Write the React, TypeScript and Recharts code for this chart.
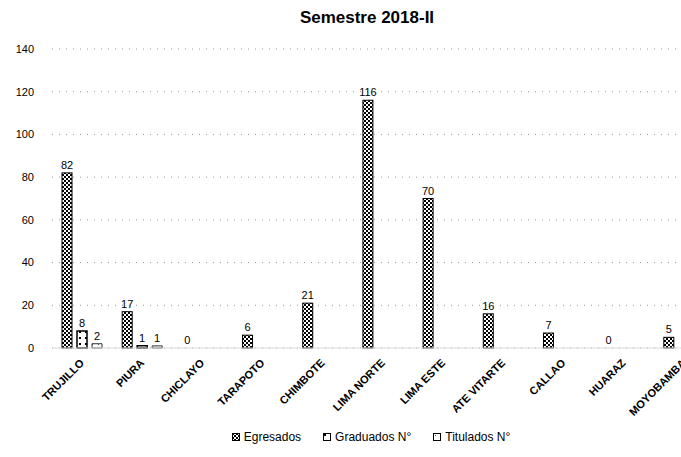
import React from 'react';
import { BarChart, Bar, XAxis, YAxis, CartesianGrid, Legend, LabelList } from 'recharts';

const categories = ['TRUJILLO', 'PIURA', 'CHICLAYO', 'TARAPOTO', 'CHIMBOTE', 'LIMA NORTE', 'LIMA ESTE', 'ATE VITARTE', 'CALLAO', 'HUARAZ', 'MOYOBAMBA'];
const egresados = [82, 17, 0, 6, 21, 116, 70, 16, 7, 0, 5];
const graduados = [8, 1, null, null, null, null, null, null, null, null, null];
const titulados = [2, 1, null, null, null, null, null, null, null, null, null];
const yTicks = [0, 20, 40, 60, 80, 100, 120, 140];

const data = categories.map((name, i) => ({
  name,
  egresados: egresados[i],
  graduados: graduados[i],
  titulados: titulados[i],
}));

const font = '"Liberation Sans", Arial, sans-serif';

const renderLabel = (props: any) => {
  const { x, y, width, value } = props;
  if (value === null || value === undefined) return null;
  return (
    <text x={x + width / 2} y={y - 4} textAnchor="middle" fontSize={11} fontFamily={font} fill="#000">
      {value}
    </text>
  );
};

// zero values get a tiny size so their label still shows; the shape hides the sliver
const zeroSize = (value: any) => (value === 0 ? 0.5 : 0);

const BarShape = (props: any) => {
  const { x, y, width, height, fill, stroke, strokeWidth } = props;
  if (!height || height < 1) return null;
  return <rect x={x} y={y} width={width} height={height} fill={fill} stroke={stroke} strokeWidth={strokeWidth} />;
};

const XTick = (props: any) => {
  const { x, payload } = props;
  const y = 358;
  return (
    <text
      x={x - 3}
      y={y}
      transform={`rotate(-45 ${x - 3} ${y})`}
      textAnchor="end"
      dy={8}
      fontSize={11}
      fontWeight="bold"
      fontFamily={font}
      fill="#000"
    >
      {payload.value}
    </text>
  );
};

const LegendContent = (props: any) => {
  const { payload } = props;
  return (
    <div style={{ display: 'flex', justifyContent: 'center', gap: 22, paddingLeft: 28, fontFamily: font, fontSize: 12, color: '#000' }}>
      {(payload || []).map((item: any) => (
        <div key={item.value} style={{ display: 'flex', alignItems: 'center', gap: 4 }}>
          <svg width={8} height={8}>
            <rect x={0.5} y={0.5} width={7} height={7} fill={item.color} stroke="#000" strokeWidth={1} />
          </svg>
          <span>{item.value}</span>
        </div>
      ))}
    </div>
  );
};

const Patterns = () => (
  <svg width={0} height={0} style={{ position: 'absolute' }}>
    <defs>
      <pattern id="pEgr" width={4} height={4} patternUnits="userSpaceOnUse">
        <rect width={4} height={4} fill="#fff" />
        <rect x={0} y={0} width={2} height={2} fill="#000" />
        <rect x={2} y={2} width={2} height={2} fill="#000" />
      </pattern>
      <pattern id="pGrad" width={6} height={6} patternUnits="userSpaceOnUse">
        <rect width={6} height={6} fill="#fff" />
        <rect x={1} y={1} width={2} height={2} fill="#000" />
      </pattern>
      <pattern id="pTit" width={6} height={6} patternUnits="userSpaceOnUse">
        <rect width={6} height={6} fill="#fff" />
        <rect x={2} y={2} width={1} height={1} fill="#555" />
      </pattern>
    </defs>
  </svg>
);

export default function App() {
  return (
    <div style={{ position: 'absolute', left: 0, top: 0, width: 681, height: 457, overflow: 'hidden', background: '#fff' }}>
      <Patterns />
      <div
        style={{
          position: 'absolute',
          top: 8,
          left: 0,
          width: 734,
          textAlign: 'center',
          fontFamily: font,
          fontWeight: 'bold',
          fontSize: 17,
          color: '#000',
        }}
      >
        Semestre 2018-II
      </div>
      <BarChart
        width={720}
        height={457}
        data={data}
        margin={{ top: 49, right: 6, left: 0, bottom: 13 }}
        barSize={10}
        barGap={5}
      >
        <CartesianGrid vertical={false} stroke="#999" strokeDasharray="1 6" />
        <XAxis
          dataKey="name"
          interval={0}
          tickLine={false}
          axisLine={{ stroke: '#d9d9d9' }}
          height={82}
          tick={<XTick />}
        />
        <YAxis
          width={52}
          domain={[0, 140]}
          ticks={yTicks}
          tickLine={false}
          axisLine={false}
          tickMargin={12}
          tick={{ fontSize: 11, fill: '#000', fontFamily: font }}
        />
        <Legend verticalAlign="bottom" content={<LegendContent />} />
        <Bar
          dataKey="egresados"
          name="Egresados"
          fill="url(#pEgr)"
          stroke="#000"
          strokeWidth={1}
          minPointSize={zeroSize}
          shape={<BarShape />}
          isAnimationActive={false}
        >
          <LabelList dataKey="egresados" content={renderLabel} />
        </Bar>
        <Bar dataKey="graduados" name="Graduados N°" fill="url(#pGrad)" stroke="#000" strokeWidth={1.5} isAnimationActive={false}>
          <LabelList dataKey="graduados" content={renderLabel} />
        </Bar>
        <Bar dataKey="titulados" name="Titulados N°" fill="url(#pTit)" stroke="#333" strokeWidth={1} isAnimationActive={false}>
          <LabelList dataKey="titulados" content={renderLabel} />
        </Bar>
      </BarChart>
    </div>
  );
}
